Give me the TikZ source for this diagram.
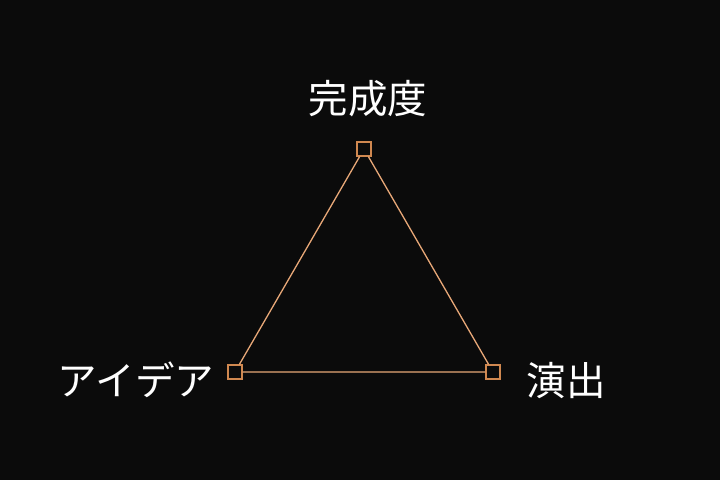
\documentclass[tikz,border=0pt]{standalone}
\usepackage{fontspec}
\newfontfamily\jpfont{Noto Sans CJK JP}
\usetikzlibrary{positioning}
\definecolor{bgdark}{HTML}{0B0B0B}
\definecolor{edgeorange}{HTML}{E8A878}
\definecolor{boxorange}{HTML}{D08850}
\begin{document}
\begin{tikzpicture}[x=1pt,y=1pt,
	corner/.style={draw=boxorange,fill=bgdark,line width=1.2pt,minimum size=14pt,inner sep=0pt},
	label/.style={text=white,font=\jpfont\fontsize{39.5}{44}\selectfont,inner sep=0pt}]
			\fill[bgdark] (0,0) rectangle (720,480); % nền
			\useasboundingbox (0,0) rectangle (720,480);
			\node[corner] (kansei) at (364,331) {};
			\node[corner] (idea) at (235,108) {};
			\node[corner] (enshutsu) at (493,108) {};
			\draw[edgeorange,line width=1.3pt] (kansei) -- (enshutsu) -- (idea) -- (kansei);
			\node[label] at (368,381) {完成度};
			\node[label] at (136,100) {アイデア};
			\node[label] at (566,99) {演出};
		\end{tikzpicture}
\end{document}
